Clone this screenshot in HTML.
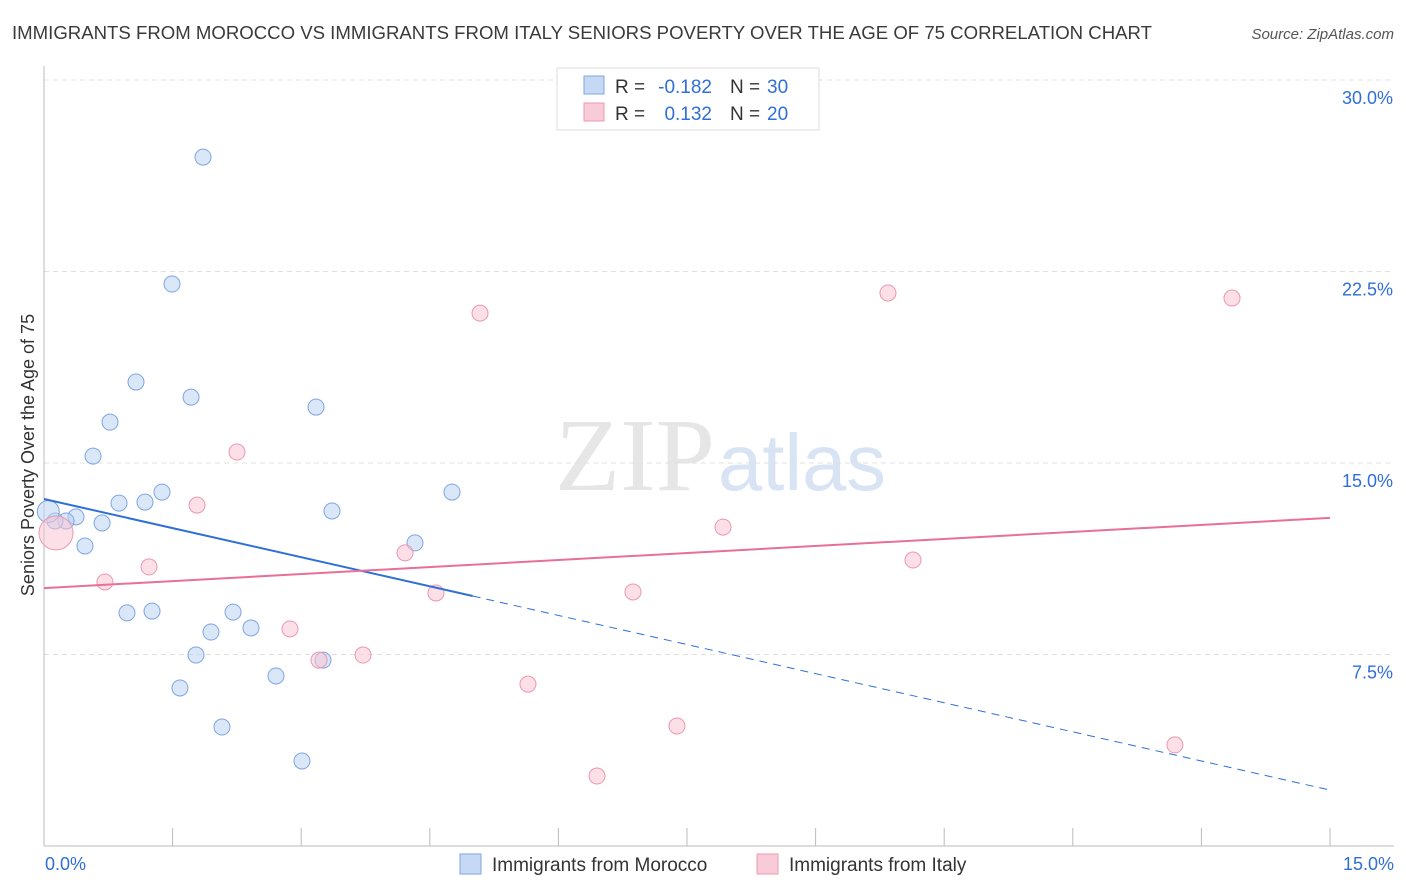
<!DOCTYPE html>
<html><head><meta charset="utf-8">
<style>
body{margin:0;background:#fff;font-family:"Liberation Sans",sans-serif;}
svg{display:block}
</style></head>
<body>
<svg id="chart" width="1406" height="892">
<text x="12" y="39" font-size="18" fill="#3a3a3a" textLength="1140" lengthAdjust="spacingAndGlyphs">IMMIGRANTS FROM MOROCCO VS IMMIGRANTS FROM ITALY SENIORS POVERTY OVER THE AGE OF 75 CORRELATION CHART</text>
<text x="1394" y="39" font-size="15" fill="#555" text-anchor="end" font-style="italic">Source: ZipAtlas.com</text>
<text x="555" y="490" font-size="104" fill="#e6e6e6" textLength="160" lengthAdjust="spacingAndGlyphs" font-family="Liberation Serif">ZIP</text>
<text x="718" y="490" font-size="80" fill="#d8e4f4" textLength="168" lengthAdjust="spacingAndGlyphs">atlas</text>
<text transform="translate(34,455) rotate(-90)" font-size="18" fill="#333" text-anchor="middle">Seniors Poverty Over the Age of 75</text>
<g id="grid"></g><g id="axes"></g><g id="marks"></g>
<g>
<rect x="557" y="68" width="262" height="62" fill="#fff" stroke="#ddd"/>
<rect x="584" y="76" width="20" height="18" fill="#c5d9f5" stroke="#7fa6e0"/>
<rect x="584" y="103" width="20" height="18" fill="#f9cbd8" stroke="#eb98b1"/>
<text x="615" y="93" font-size="19" fill="#333">R =</text>
<text x="712" y="93" font-size="19" fill="#2f6fd6" text-anchor="end">-0.182</text>
<text x="730" y="93" font-size="19" fill="#333">N =</text>
<text x="767" y="93" font-size="19" fill="#2f6fd6">30</text>
<text x="615" y="120" font-size="19" fill="#333">R =</text>
<text x="712" y="120" font-size="19" fill="#2f6fd6" text-anchor="end">0.132</text>
<text x="730" y="120" font-size="19" fill="#333">N =</text>
<text x="767" y="120" font-size="19" fill="#2f6fd6">20</text>
</g>
<g>
<rect x="460" y="854" width="21" height="20" fill="#c5d9f5" stroke="#7fa6e0"/>
<text x="492" y="871" font-size="19" fill="#333">Immigrants from Morocco</text>
<rect x="757" y="854" width="21" height="20" fill="#f9cbd8" stroke="#eb98b1"/>
<text x="789" y="871" font-size="19" fill="#333">Immigrants from Italy</text>
</g>
</svg>
<script>
const yTicks=[7.5,15,22.5,30];
const yTickLabels=["7.5%","15.0%","22.5%","30.0%"];
const moroccoX=[1.855,1.493,1.073,1.715,0.770,3.173,0.572,1.376,1.178,0.875,4.759,3.359,0.373,0.677,0.257,0.128,0.478,4.327,0.968,1.260,2.205,2.414,1.948,1.773,3.254,2.706,1.586,2.076,3.009,0.05];
const moroccoY=[26.98,22.01,18.17,17.58,16.60,17.19,15.27,13.86,13.47,13.43,13.86,13.12,12.89,12.65,12.73,12.73,11.75,11.87,9.13,9.20,9.16,8.54,8.38,7.48,7.28,6.66,6.19,4.66,3.33,13.1];
const moroccoR=[8,8,8,8,8,8,8,8,8,8,8,8,8,8,8,8,8,8,8,8,8,8,8,8,8,8,8,8,8,11];
const italyX=[5.086,9.844,13.857,2.251,1.785,7.920,0.14,4.211,10.136,1.225,0.711,4.572,6.870,2.869,3.721,3.208,5.645,7.383,13.191,6.450];
const italyY=[20.87,21.66,21.46,15.43,13.35,12.49,12.26,11.48,11.20,10.93,10.34,9.91,9.95,8.50,7.48,7.28,6.34,4.70,3.96,2.74];
const italyR=[8,8,8,8,8,8,17,8,8,8,8,8,8,8,8,8,8,8,8,8];
const moroccoTrend=[13.59,2.19];
const moroccoSolidEnd=5.0;
const italyTrend=[10.10,12.85];
const xs=v=>44+v/15*1286, ys=v=>846-v/7.5*191.5;
const NS="http://www.w3.org/2000/svg";
function mk(t,a,p){const e=document.createElementNS(NS,t);for(const k in a)e.setAttribute(k,a[k]);p.appendChild(e);return e;}
const grid=document.getElementById('grid'),axes=document.getElementById('axes'),marks=document.getElementById('marks');
yTicks.forEach((t,i)=>{
 const l=mk('line',{x1:44,x2:1394,y1:ys(t),y2:ys(t),stroke:'#e0e0e0','stroke-dasharray':'5,4'},grid);
 
 
 const tx=mk('text',{x:1393,y:ys(t)+24,'font-size':18,fill:'#2f6fd6','text-anchor':'end'},axes);
 tx.textContent=yTickLabels[i];
 
 
});
mk('line',{x1:44,x2:44,y1:66,y2:846,stroke:'#bbb'},axes);
mk('line',{x1:44,x2:1394,y1:846,y2:846,stroke:'#bbb'},axes);
for(let i=0;i<=10;i++){const x=xs(i*1.5);mk('line',{x1:x,x2:x,y1:828,y2:846,stroke:'#bbb'},axes);}
let t0=mk('text',{x:45,y:870,'font-size':18,fill:'#2f6fd6'},axes);t0.textContent='0.0%';


let t1=mk('text',{x:1394,y:870,'font-size':18,fill:'#2f6fd6','text-anchor':'end'},axes);t1.textContent='15.0%';


function dot(x,y,r,f,s){const c=mk('circle',{cx:xs(x),cy:ys(y),r:r,fill:f,stroke:s,'stroke-width':1,'fill-opacity':0.55},marks);
 
 }
moroccoX.forEach((x,i)=>dot(x,moroccoY[i],moroccoR[i],'#bcd4f4','#7fa6e0'));
italyX.forEach((x,i)=>dot(x,italyY[i],italyR[i],'#f9c4d3','#eb98b1'));
const my=x=>moroccoTrend[0]+(moroccoTrend[1]-moroccoTrend[0])*x/15;
let l1=mk('line',{x1:xs(0),y1:ys(my(0)),x2:xs(moroccoSolidEnd),y2:ys(my(moroccoSolidEnd)),stroke:'#2f6fd6','stroke-width':2},marks);


let l2=mk('line',{x1:xs(moroccoSolidEnd),y1:ys(my(moroccoSolidEnd)),x2:xs(15),y2:ys(my(15)),stroke:'#2f6fd6','stroke-width':1,'stroke-dasharray':'8,6'},marks);


let l3=mk('line',{x1:xs(0),y1:ys(italyTrend[0]),x2:xs(15),y2:ys(italyTrend[1]),stroke:'#e86f98','stroke-width':2},marks);


</script>
</body></html>
